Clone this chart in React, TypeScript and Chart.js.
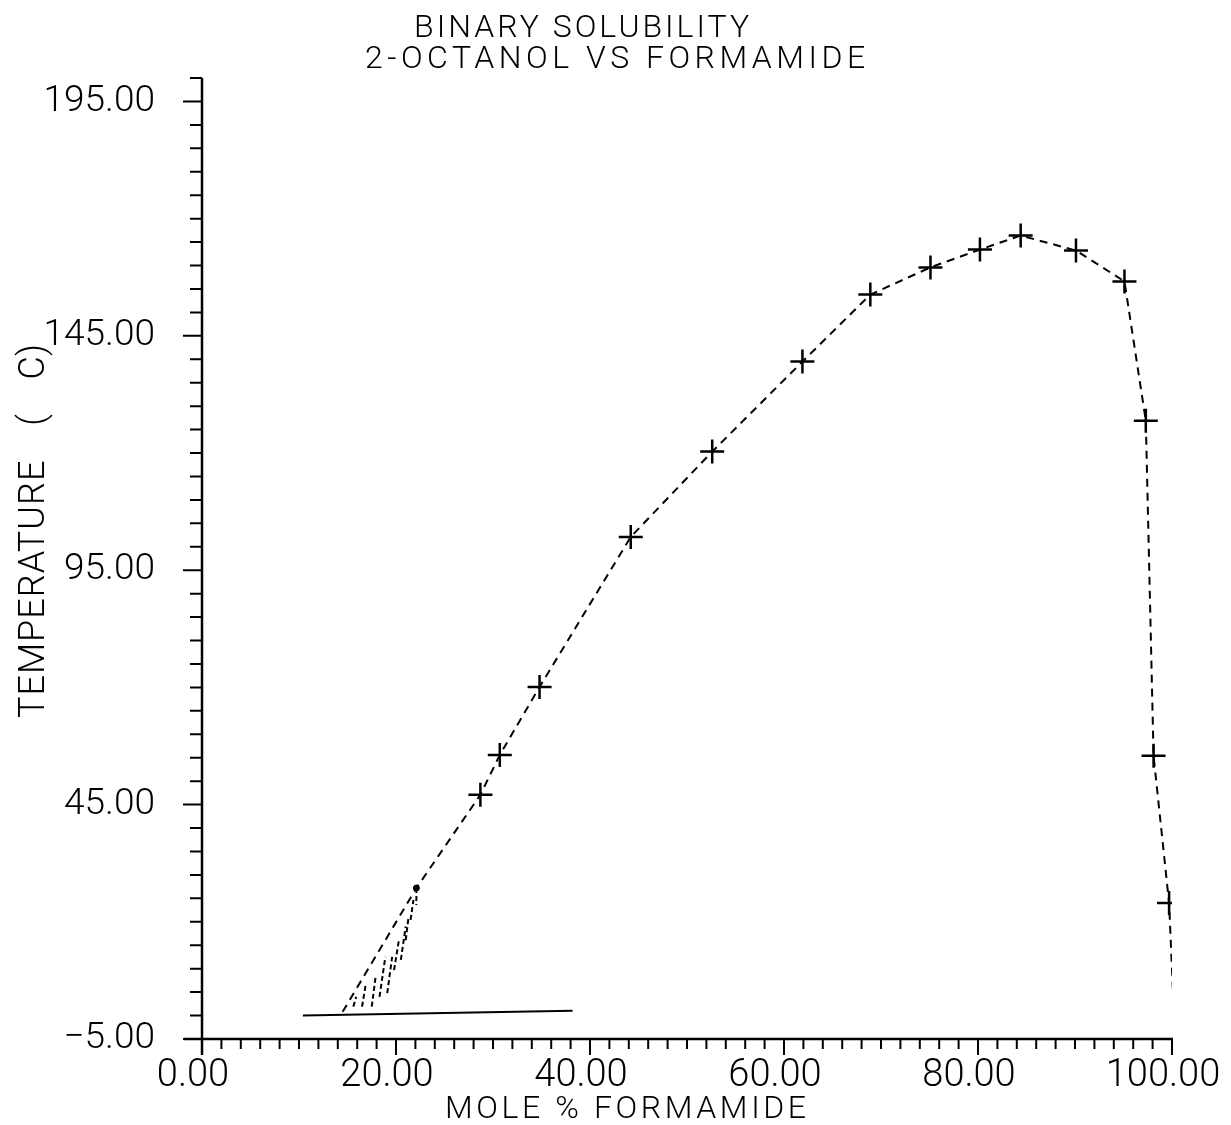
import React, { useEffect, useRef } from "react";
import { Chart, registerables } from "chart.js";

Chart.register(...registerables);

const FONT = "Roboto, 'Liberation Sans', sans-serif";

// ---- text ----
const titleLines = ["BINARY SOLUBILITY", "2-OCTANOL VS FORMAMIDE"];
const xAxisTitle = "MOLE % FORMAMIDE";
const yAxisTitle = "TEMPERATURE ( C)";

// ---- axes ----
const xRange = [0, 100];
const yRange = [-5, 200];
const xTickValues = [0, 20, 40, 60, 80, 100];
const yTickValues = [-5, 45, 95, 145, 195];
const xMinorStep = 2;
const yMinorStep = 5;

// ---- measured points (crosses) ----
const moleX = [28.7, 30.7, 34.8, 44.2, 52.6, 61.9, 68.9, 75.1, 80.2, 84.4, 90.1, 95.1, 97.3, 98.1, 99.7];
const tempY = [47.1, 55.6, 70.1, 102.1, 120.3, 139.5, 153.8, 159.6, 163.4, 166.4, 163.2, 156.6, 126.9, 55.4, 24.0];

// ---- curve extensions beyond the measured points ----
const lowerCurveX = [14.5, 22.1];
const lowerCurveY = [0.8, 27.2];
const upperCurveX = [100.1];
const upperCurveY = [5.0];

// ---- end dot ----
const dotX = [22.1];
const dotY = [27.2];

// ---- hatch strokes ----
const hatchX1 = [15.6, 16.5, 17.5, 18.3, 19.1, 19.8, 20.5, 21.0, 21.5, 22.1];
const hatchY1 = [1.9, 1.9, 1.9, 4.0, 4.8, 9.7, 11.9, 16.1, 20.4, 27.2];
const hatchX2 = [15.9, 16.9, 17.9, 18.9, 19.6, 20.3, 21.0, 21.3, 21.8, 22.1];
const hatchY2 = [4.0, 6.9, 8.3, 12.5, 12.5, 16.1, 19.0, 21.1, 24.7, 23.6];

// ---- base line ----
const baseX = [10.4, 38.2];
const baseY = [0.0, 1.0];

const fmt = (v: number) => Number(v).toFixed(2).replace("-", "\u2212");

export default function App() {
  const ref = useRef<HTMLCanvasElement | null>(null);

  useEffect(() => {
    document.body.style.margin = "0";
    const canvas = ref.current;
    if (!canvas) return;

    const curveData = [
      ...lowerCurveX.map((x, i) => ({ x, y: lowerCurveY[i] })),
      ...moleX.map((x, i) => ({ x, y: tempY[i] })),
      ...upperCurveX.map((x, i) => ({ x, y: upperCurveY[i] })),
    ];
    const markerData = moleX.map((x, i) => ({ x, y: tempY[i] }));
    const hatchData: { x: number; y: number | null }[] = [];
    hatchX1.forEach((x, i) => {
      hatchData.push({ x, y: hatchY1[i] });
      hatchData.push({ x: hatchX2[i], y: hatchY2[i] });
      hatchData.push({ x: hatchX2[i], y: null });
    });
    const baseData = baseX.map((x, i) => ({ x, y: baseY[i] }));
    const dotData = dotX.map((x, i) => ({ x, y: dotY[i] }));

    const axesPlugin = {
      id: "axesFrame",
      beforeDatasetsDraw(chart: any) {
        const { ctx } = chart;
        const xs = chart.scales.x;
        const ys = chart.scales.y;
        const x0 = xs.getPixelForValue(xRange[0]);
        const x1 = xs.getPixelForValue(xRange[1]);
        const yb = ys.getPixelForValue(yRange[0]);
        const yt = ys.getPixelForValue(yRange[1]);
        ctx.save();
        ctx.strokeStyle = "#000";
        ctx.lineCap = "butt";
        ctx.lineWidth = 2.5;
        ctx.beginPath();
        ctx.moveTo(x0, yt);
        ctx.lineTo(x0, yb + 16);
        ctx.moveTo(x0 - 18, yb);
        ctx.lineTo(x1 + 1, yb);
        ctx.stroke();
        ctx.lineWidth = 2;
        ctx.beginPath();
        for (let v = yRange[0]; v <= yRange[1] + 1e-6; v += yMinorStep) {
          const major = yTickValues.some((t) => Math.abs(t - v) < 1e-6);
          const p = ys.getPixelForValue(v);
          ctx.moveTo(x0 - (major ? 19 : 12), p);
          ctx.lineTo(x0, p);
        }
        for (let v = xRange[0]; v <= xRange[1] + 1e-6; v += xMinorStep) {
          const major = xTickValues.some((t) => Math.abs(t - v) < 1e-6);
          const p = xs.getPixelForValue(v);
          ctx.moveTo(p, yb);
          ctx.lineTo(p, yb + (major ? 16 : 10));
        }
        ctx.stroke();
        ctx.restore();
      },
    };

    const textPlugin = {
      id: "titles",
      afterDraw(chart: any) {
        const { ctx } = chart;
        ctx.save();
        ctx.fillStyle = "#000";
        ctx.textAlign = "left";
        ctx.textBaseline = "alphabetic";
        ctx.font = `300 32px ${FONT}`;
        (ctx as any).letterSpacing = "3px";
        ctx.fillText(titleLines[0], 414, 37);
        (ctx as any).letterSpacing = "4.5px";
        ctx.fillText(titleLines[1], 365, 68);

        ctx.font = `300 32px ${FONT}`;
        (ctx as any).letterSpacing = "3.6px";
        ctx.fillText(xAxisTitle, 445, 1118);

        ctx.translate(44, 718);
        ctx.rotate(-Math.PI / 2);
        ctx.font = `300 36px ${FONT}`;
        (ctx as any).letterSpacing = "1px";
        (ctx as any).wordSpacing = "24px";
        ctx.fillText(yAxisTitle, 0, 0);
        ctx.restore();
      },
    };

    const chart = new Chart(canvas, {
      type: "scatter",
      data: {
        datasets: [
          {
            label: "measured",
            data: markerData,
            showLine: false,
            pointStyle: "cross",
            pointRadius: 12,
            pointBorderWidth: 2.5,
            borderColor: "#000",
            backgroundColor: "#000",
          },
          {
            label: "curve",
            data: curveData,
            showLine: true,
            borderDash: [8, 6],
            borderWidth: 2,
            borderColor: "#000",
            pointRadius: 0,
            tension: 0,
          },
          {
            label: "end",
            data: dotData,
            showLine: false,
            pointStyle: "circle",
            pointRadius: 3,
            borderColor: "#000",
            backgroundColor: "#000",
          },
          {
            label: "hatch",
            data: hatchData,
            showLine: true,
            spanGaps: false,
            borderDash: [5, 3],
            borderWidth: 2,
            borderColor: "#000",
            pointRadius: 0,
          },
          {
            label: "base",
            data: baseData,
            showLine: true,
            borderWidth: 2,
            borderColor: "#000",
            pointRadius: 0,
          },
        ],
      },
      options: {
        responsive: false,
        animation: false,
        events: [],
        layout: { padding: { top: 78, right: 59, left: 0, bottom: 0 } },
        plugins: {
          legend: { display: false },
          tooltip: { enabled: false },
          title: { display: false },
        },
        scales: {
          x: {
            type: "linear",
            min: xRange[0],
            max: xRange[1],
            grid: { display: false, drawTicks: false },
            border: { display: false },
            afterBuildTicks: (s: any) => {
              s.ticks = xTickValues.map((value) => ({ value }));
            },
            afterFit: (s: any) => {
              s.height = 86;
              s.paddingLeft = 0;
              s.paddingRight = 0;
            },
            ticks: {
              autoSkip: false,
              maxRotation: 0,
              minRotation: 0,
              padding: 15,
              labelOffset: -9,
              color: "#000",
              font: { family: FONT, size: 38, weight: "300" },
              callback: (v: any) => fmt(v),
            },
          },
          y: {
            type: "linear",
            min: yRange[0],
            max: yRange[1],
            grid: { display: false, drawTicks: false },
            border: { display: false },
            afterBuildTicks: (s: any) => {
              s.ticks = yTickValues.map((value) => ({ value }));
            },
            afterFit: (s: any) => {
              s.width = 202;
              s.paddingTop = 0;
              s.paddingBottom = 0;
            },
            ticks: {
              autoSkip: false,
              padding: 47,
              color: "#000",
              font: { family: FONT, size: 37, weight: "300" },
              callback: (v: any) => fmt(v),
            },
          },
        },
      },
      plugins: [axesPlugin, textPlugin],
    } as any);

    return () => chart.destroy();
  }, []);

  return (
    <canvas
      ref={ref}
      width={1231}
      height={1125}
      style={{ display: "block", width: 1231, height: 1125 }}
    />
  );
}
